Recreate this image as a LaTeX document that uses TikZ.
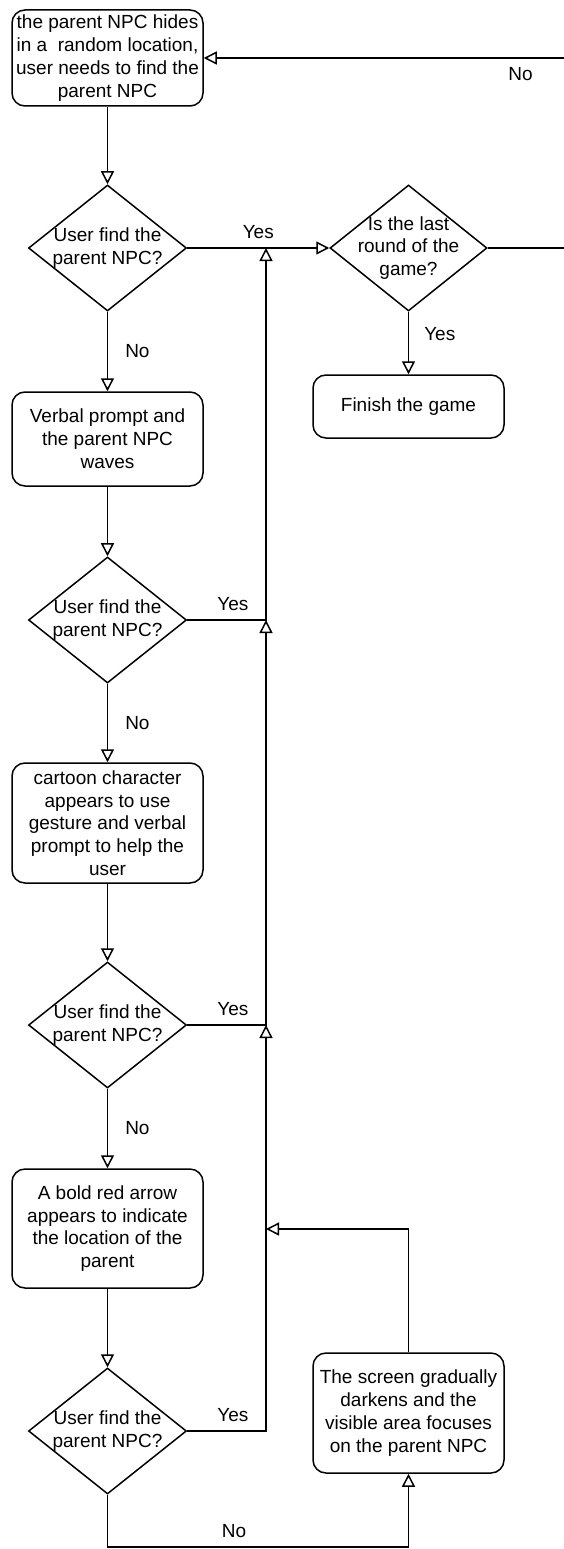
\documentclass[tikz,border=0pt]{standalone}
\usepackage{fontspec}
\setmainfont{Liberation Sans}
\usetikzlibrary{arrows.meta,shapes.geometric}
\tikzset{>={Triangle[open,length=13pt,width=13pt]}}
\tikzset{
    procbox/.style={draw, rounded corners=13pt, minimum width=191pt, align=center, inner sep=0pt},
    decision/.style={draw, diamond, minimum width=158pt, minimum height=126pt, inner sep=0pt},
    qtext/.style={align=center, inner sep=0pt},
    lbl/.style={inner sep=0pt}
}

\begin{document}
\begin{tikzpicture}[x=1pt, y=-1pt, line width=1.5pt,
    every node/.style={font=\fontsize{19}{22.8}\selectfont}]
    \useasboundingbox (0,0) rectangle (563,1549);

    \coordinate (m1) at (266,248);
    \coordinate (m2) at (266,620);
    \coordinate (m3) at (266,1025);
    \coordinate (m4) at (266,1229);
    \coordinate (rt) at (572,248);
    \coordinate (bt) at (107.5,1547);

    \node[procbox, minimum height=96pt] (hide) at (107.5,58) {the parent NPC hides\\in a\ \ random location,\\user needs to find the\\parent NPC};
    \node[decision, label={[qtext]center:User find the\\parent NPC?}] (find1) at (107.5,248) {};
    \node[decision, minimum width=157pt, label={[qtext]center:Is the last\\round of the\\game?}] (last) at (408.5,248) {};
    \node[procbox, minimum height=63pt] (finish) at (408.5,406.5) {Finish the game};
    \node[procbox, minimum height=94pt] (wave) at (107.5,439) {Verbal prompt and\\the parent NPC\\waves};
    \node[decision, label={[qtext]center:User find the\\parent NPC?}] (find2) at (107.5,620) {};
    \node[procbox, minimum height=120pt] (cartoon) at (107.5,823) {cartoon character\\appears to use\\gesture and verbal\\prompt to help the\\user};
    \node[decision, label={[qtext]center:User find the\\parent NPC?}] (find3) at (107.5,1025) {};
    \node[procbox, minimum height=119pt] (redarrow) at (107.5,1228.5) {A bold red arrow\\appears to indicate\\the location of the\\parent};
    \node[decision, label={[qtext]center:User find the\\parent NPC?}] (find4) at (107.5,1431) {};
    \node[procbox, minimum height=120pt] (darken) at (408.5,1413) {The screen gradually\\darkens and the\\visible area focuses\\on the parent NPC};

    \draw[->] (hide) -- (find1);
    \draw[->] (find1) -- node[lbl, above=9pt]{Yes} (last);
    \draw[->] (last.east) -- (rt) |- node[lbl, pos=0.57, below=9pt]{No} (hide.east);
    \draw[->] (last) -- node[lbl, pos=0.35, right=15pt]{Yes} (finish);
    \draw[->] (find1) -- node[lbl, right=17pt]{No} (wave);
    \draw[->] (wave) -- (find2);
    \draw[->] (find2.east) -| node[lbl, pos=0.29, above=9pt]{Yes} (m1);
    \draw[->] (find2) -- node[lbl, right=17pt]{No} (cartoon);
    \draw[->] (cartoon) -- (find3);
    \draw[->] (find3.east) -| node[lbl, pos=0.29, above=9pt]{Yes} (m2);
    \draw[->] (find3) -- node[lbl, right=17pt]{No} (redarrow);
    \draw[->] (redarrow) -- (find4);
    \draw[->] (find4.east) -| node[lbl, pos=0.29, above=9pt]{Yes} (m3);
    \draw[->] (find4.south) -- (bt) -| node[lbl, pos=0.21, above=9pt]{No} (darken.south);
    \draw[->] (darken.north) |- (m4);
\end{tikzpicture}
\end{document}
